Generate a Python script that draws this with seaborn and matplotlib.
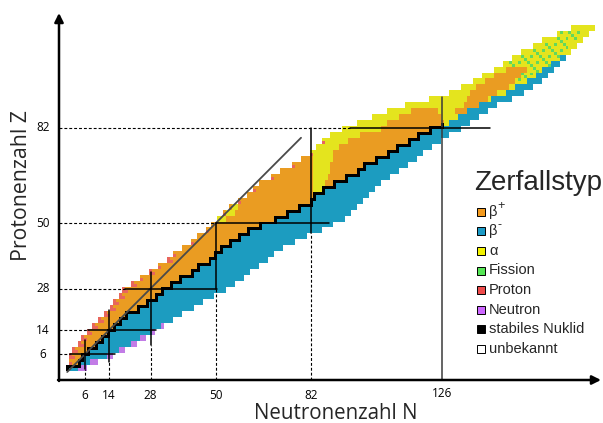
import numpy as np
import matplotlib
matplotlib.use("Agg")
import matplotlib.pyplot as plt
from matplotlib.colors import ListedColormap
from matplotlib.patches import Rectangle
import seaborn as sns

# ---------------- data ----------------
# each row covers two proton numbers: Z = z and z + 1
row_z = list(range(1, 117, 2))
n_first = [0, 1, 1, 2, 4, 5, 7, 9, 11, 13,
           15, 16, 18, 19, 22, 25, 28, 31, 34, 36,
           39, 42, 44, 47, 49, 51, 53, 55, 58, 61,
           63, 65, 69, 72, 76, 79, 82, 84, 86, 89,
           93,
           98, 103, 108, 114, 122, 129, 133, 137, 140, 144,
           147, 150, 153, 157, 160, 165, 170]
n_last = [6, 10, 15, 19, 23, 26, 29, 32, 35, 38,
          42, 45, 49, 53, 56, 59, 61, 64, 67, 69,
          72, 76, 80, 85, 89, 93, 95, 97, 99, 101,
          103, 105, 108, 111, 114, 117, 119, 122, 125, 128,
          132,
          135, 138, 141, 144, 149, 153, 156, 159, 161, 163,
          165, 167, 169, 171, 173, 175, 177]
stable_n = [0, 4, 5, 7, 10, 12, 14, 16, 18, 20,
            24, 27, 30, 32, 35, 38, 42, 44, 48, 50,
            52, 55, 58, 61, 65, 70, 74, 78, 82, 83,
            86, 90, 94, 98, 100, 104, 108, 111, 115, 118,
            122, 126]
proton_width = ([0, 1] + [2] * 13 + [1, 2, 1, 2]
                + [1, 0, 1, 0, 1, 0, 0, 1, 0, 1, 0, 1, 0, 1, 0, 1, 0, 1, 0, 1, 0, 0]
                + [0] * 17)
neutron_width = [3, 3, 2, 2, 2, 2, 1, 1] + [0] * 50
alpha_band = {51: (51, 53), 53: (54, 56), 55: (56, 57), 61: (83, 85), 63: (83, 86),
              65: (83, 87), 67: (83, 88), 69: (83, 88), 71: (83, 89), 73: (82, 89),
              75: (84, 91), 77: (86, 94), 79: (89, 98), 81: (93, 105)}
orange_band = {83: [(108, 126)], 85: [(112, 125)], 87: [(116, 124), (131, 134)],
               89: [(134, 138)], 91: [(135, 141)], 93: [(136, 144)], 95: [(138, 148)],
               97: [(141, 150)], 99: [(144, 152)], 101: [(148, 154)]}
beta_minus_from = {83: 129, 85: 132, 87: 135, 89: 139, 91: 143, 93: 148, 95: 151,
                   97: 155, 99: 158, 101: 160, 103: 163, 105: 166}
fission_band = {97: (149, 155), 99: (148, 158), 101: (147, 160), 103: (149, 163),
                105: (152, 165), 107: (156, 167), 109: (160, 169), 111: (163, 171),
                113: (166, 172)}

# magic numbers: isotone lines (N = const) and isotope lines (Z = const)
magic_n = [6, 14, 28, 50, 82, 126]
magic_n_z_from = [1, 3.5, 9, 28, 46.5, -2.7]
magic_n_z_to = [10.7, 20.8, 33.5, 50, 82, 92.4]
magic_z = [6, 14, 28, 50, 82]
magic_z_n_from = [1, 7, 19.5, 50, 95]
magic_z_n_to = [16, 30, 50.4, 88, 142]
diag_end = 78.6

legend_labels = ["β", "β", "α", "Fission", "Proton", "Neutron", "stabiles Nuklid", "unbekannt"]
legend_sup = ["+", "-", "", "", "", "", "", ""]
cell_colors = ["#EA9C22", "#1C9CC0", "#E4E41E", "#62D85C", "#E8665C", "#C27CE6", "#000000"]
legend_colors = ["#F39A1E", "#1B9AC6", "#F2F200", "#55E655", "#EE4B4B", "#CC66FF", "#000000", "#FFFFFF"]

# ---------------- grid of nuclides ----------------
NMAX, ZMAX = 181, 121
grid = np.full((ZMAX, NMAX), np.nan)
for i, z in enumerate(row_z):
    for Z in (z, z + 1):
        top = (Z == z + 1)
        lo, hi = n_first[i], n_last[i]
        for N in range(lo, hi + 1):
            if z < 82:
                s = stable_n[i]
                s_end = stable_n[i + 1] if top else s
                if N < s:
                    c = 0
                elif N <= s_end:
                    c = 6
                else:
                    c = 1
                if z in alpha_band and c == 0:
                    a0, a1 = alpha_band[z]
                    if a0 <= N <= a1:
                        c = 2
            else:
                c = 2
                for o0, o1 in orange_band.get(z, []):
                    if o0 <= N <= o1:
                        c = 0
                if z in beta_minus_from and N >= beta_minus_from[z]:
                    c = 1
                if z in fission_band and c == 2:
                    f0, f1 = fission_band[z]
                    if f0 <= N <= f1 and (N + 2 * i + (1 if top else 0)) % 3 == 0 and (top or N % 2 == 0):
                        c = 3
                if i < len(stable_n) and Z == z and N == stable_n[i]:
                    c = 6
            pw = proton_width[i] - (1 if top else 0)
            if N < lo + pw and c in (0, 2):
                c = 4
            nw = neutron_width[i]
            if N > hi - nw and c == 1:
                c = 5
            grid[Z, N] = c

# ---------------- figure ----------------
sns.set_theme(style="white")
plt.rcParams["font.family"] = ["Open Sans", "DejaVu Sans"]

W, H = 603, 423
fig = plt.figure(figsize=(W / 100, H / 100), dpi=100)
ax = fig.add_axes([0, 0, 1, 1])

sns.heatmap(grid, mask=np.isnan(grid), cmap=ListedColormap(cell_colors),
            vmin=-0.5, vmax=6.5, cbar=False, ax=ax,
            xticklabels=False, yticklabels=False, linewidths=0)

# pixel <-> data mapping (cell centre of value v at v + 0.5)
X0, SX = 67.2, 2.975
Y0, SY = 372.0, 2.98
def dx(px):
    return 0.5 + (px - X0) / SX
def dy(py):
    return 0.5 + (Y0 - py) / SY
def c(v):
    return v + 0.5

ax.set_xlim(dx(0), dx(W))
ax.set_ylim(dy(H), dy(0))
ax.axis("off")

axis_n = (59 - X0) / SX
axis_z = (Y0 - 380) / SY

# diagonal N = Z
ax.plot([c(0), c(diag_end)], [c(0), c(diag_end)], color="#4a4a4a", lw=1.3, zorder=3)

dash = dict(color="black", lw=0.8, linestyle=(0, (2.6, 1.8)), zorder=3)
for n, z0, z1 in zip(magic_n, magic_n_z_from, magic_n_z_to):
    col = "#3a3a3a" if n == 126 else "black"
    ax.plot([c(n), c(n)], [c(max(z0, axis_z)), c(z1)], color=col, lw=1.1, zorder=4)
    if z0 > axis_z:
        ax.plot([c(n), c(n)], [c(axis_z), c(z0)], **dash)
for z, n0, n1 in zip(magic_z, magic_z_n_from, magic_z_n_to):
    ax.plot([c(n0), c(n1)], [c(z), c(z)], color="black", lw=1.1, zorder=4)
    ax.plot([c(axis_n), c(n0)], [c(z), c(z)], **dash)

# axes with arrows
arrow = dict(arrowstyle="-|>", lw=1.8, color="black", mutation_scale=13,
             shrinkA=0, shrinkB=0)
ax.annotate("", xy=(dx(601), c(axis_z)), xytext=(dx(58), c(axis_z)), arrowprops=arrow, zorder=6)
ax.annotate("", xy=(c(axis_n), dy(13)), xytext=(c(axis_n), dy(381)), arrowprops=arrow, zorder=6)

# tick labels
for n in magic_n:
    ax.text(c(n), dy(395 if n != 126 else 393), str(n), ha="center", va="center",
            fontsize=8.5, color="black")
for z in magic_z:
    ax.text(dx(43), c(z), str(z), ha="center", va="center", fontsize=8.5, color="black")

def ft(px, py, s, **kw):
    fig.text(px / W, 1 - py / H, s, **kw)

ft(336, 413, "Neutronenzahl N", ha="center", va="center", fontsize=14.8)
ft(22, 185, "Protonenzahl Z", ha="center", va="center", fontsize=15.3, rotation=90)

# legend
lf = ["Liberation Sans", "DejaVu Sans"]
ft(538, 183, "Zerfallstyp", ha="center", va="center", fontsize=20, family=lf)
for k, (lab, sup, col) in enumerate(zip(legend_labels, legend_sup, legend_colors)):
    yc = 212 + k * 19.5
    fig.patches.append(Rectangle(((477) / W, 1 - (yc + 4) / H), 8 / W, 8 / H,
                                 transform=fig.transFigure, facecolor=col,
                                 edgecolor="black", lw=0.7))
    ft(489, yc, lab, ha="left", va="center", fontsize=10.5, family=lf)
    if sup:
        ft(497, yc - 6, sup, ha="left", va="center", fontsize=9, family=lf)

fig.savefig("out.png", dpi=100)
